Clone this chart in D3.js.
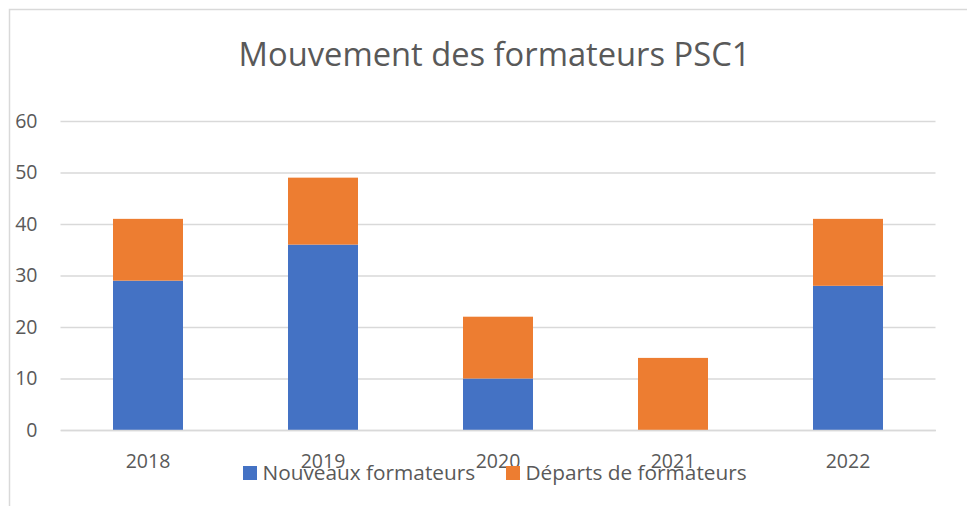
<!DOCTYPE html>
<html lang="fr">
  <head>
    <meta charset="utf-8">
    <title>Mouvement des formateurs PSC1</title>
    <script src="https://d3js.org/d3.v7.min.js"></script>
    <style>
      body { margin: 0; background: #fff; }
      text { font-family: "Open Sans", "Noto Sans", sans-serif; fill: #595959; }
    </style>
  </head>
  <body>
    <div id="chart"></div>
    <script>
      var years = ["2018", "2019", "2020", "2021", "2022"];
      var nouveaux = [29, 36, 10, 0, 28];
      var departs = [12, 13, 12, 14, 13];
      var seriesNames = ["Nouveaux formateurs", "Départs de formateurs"];
      var yTicks = [0, 10, 20, 30, 40, 50, 60];

      var width = 967, height = 506;
      var colors = ["#4472C4", "#ED7D31"];

      var svg = d3.select("#chart").append("svg")
          .attr("width", width)
          .attr("height", height);

      // chart frame (only top and left visible)
      svg.append("path")
          .attr("d", "M9.5,506V9.5H967")
          .attr("fill", "none")
          .attr("stroke", "#d9d9d9")
          .attr("stroke-width", 1.5);

      svg.append("text")
          .attr("x", 494.5)
          .attr("y", 65.5)
          .attr("text-anchor", "middle")
          .style("font-size", "32.7px")
          .text("Mouvement des formateurs PSC1");

      var x = d3.scaleBand()
          .domain(years)
          .range([60.5, 935.5])
          .paddingInner(0.6)
          .paddingOuter(0.3);

      var y = d3.scaleLinear()
          .domain([0, 60])
          .range([430, 121]);

      // gridlines + y labels
      var yAxis = d3.axisLeft(y)
          .tickValues(yTicks)
          .tickSize(-(935.5 - 60.5))
          .tickPadding(23);

      var gy = svg.append("g")
          .attr("transform", "translate(60.5,0)")
          .call(yAxis);
      gy.select(".domain").remove();
      gy.selectAll(".tick line")
          .attr("stroke", "#d9d9d9")
          .attr("stroke-width", 1.5);
      gy.selectAll(".tick text")
          .attr("fill", "#595959")
          .style("font-size", "19.5px")
          .style("font-family", "'Open Sans', sans-serif");

      var table = years.map(function(yr, i) {
        return { year: yr, nouveaux: nouveaux[i], departs: departs[i] };
      });
      var stack = d3.stack().keys(["nouveaux", "departs"]);
      var layers = stack(table);

      svg.append("g").selectAll("g")
          .data(layers)
          .enter().append("g")
          .attr("fill", function(d, i) { return colors[i]; })
          .selectAll("rect")
          .data(function(d) { return d; })
          .enter().append("rect")
          .attr("x", function(d) { return x(d.data.year); })
          .attr("width", x.bandwidth())
          .attr("y", function(d) { return y(d[1]); })
          .attr("height", function(d) { return y(d[0]) - y(d[1]); });

      // x axis line + labels
      var xAxis = d3.axisBottom(x).tickSize(0).tickPadding(24);
      var gx = svg.append("g")
          .attr("transform", "translate(0,430)")
          .call(xAxis);
      gx.select(".domain")
          .attr("stroke", "#d9d9d9")
          .attr("stroke-width", 1.5);
      gx.selectAll(".tick text")
          .attr("fill", "#595959")
          .style("font-size", "19.5px")
          .style("font-family", "'Open Sans', sans-serif");

      // legend (overlaps the year labels, as in the original)
      var legendX = [243, 506];
      var legend = svg.append("g").selectAll("g")
          .data(seriesNames)
          .enter().append("g")
          .attr("transform", function(d, i) { return "translate(" + legendX[i] + ",466)"; });
      legend.append("rect")
          .attr("width", 14)
          .attr("height", 14)
          .attr("fill", function(d, i) { return colors[i]; });
      legend.append("text")
          .attr("x", 19.5)
          .attr("y", 14)
          .style("font-size", "20.8px")
          .text(function(d) { return d; });
    </script>
  </body>
</html>
